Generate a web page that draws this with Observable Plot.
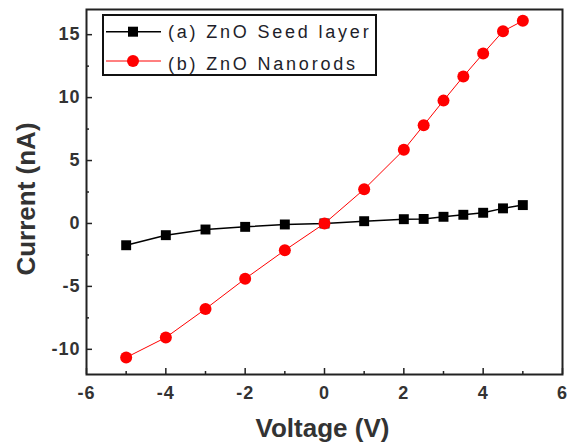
<!DOCTYPE html>
<html><head><meta charset="utf-8">
<script src="https://cdn.jsdelivr.net/npm/d3@7"></script>
<script src="https://cdn.jsdelivr.net/npm/@observablehq/plot@0.6"></script>
<style>
body{margin:0;background:#fff;}
#wrap{position:relative;width:567px;height:448px;}
#wrap svg{position:absolute;left:0;top:0;}
</style>
</head><body><div id="wrap"></div>
<script>
// ---- data ----
const voltage = [-5, -4, -3, -2, -1, 0, 1, 2, 2.5, 3, 3.5, 4, 4.5, 5];
const seedLayer = [-1.73, -0.93, -0.48, -0.27, -0.08, 0, 0.18, 0.34, 0.36, 0.53, 0.69, 0.85, 1.2, 1.46];
const nanorods = [-10.65, -9.06, -6.79, -4.39, -2.13, 0, 2.72, 5.85, 7.8, 9.76, 11.68, 13.5, 15.27, 16.1];
const seriesNames = ["(a) ZnO Seed layer", "(b) ZnO Nanorods"];
const xTicks = [-6, -4, -2, 0, 2, 4, 6];
const xMinorTicks = [-5, -3, -1, 1, 3, 5];
const yTicks = [-10, -5, 0, 5, 10, 15];
const yMinorTicks = [-7.5, -2.5, 2.5, 7.5, 12.5];
const xLabel = "Voltage (V)";
const yLabel = "Current (nA)";

const seedData = voltage.map((v, i) => ({v, c: seedLayer[i]}));
const rodData = voltage.map((v, i) => ({v, c: nanorods[i]}));

const W = 567, H = 448, mL = 86, mR = 5, mT = 9, mB = 74;
const fw = W - mL - mR, fh = H - mT - mB;
const font = "'Liberation Sans', Arial, sans-serif";
const fmt = d => String(d);

const plot = Plot.plot({
  width: W, height: H,
  marginLeft: mL, marginRight: mR, marginTop: mT, marginBottom: mB,
  style: {fontFamily: font, background: "#fff", overflow: "visible"},
  x: {domain: [-6, 6]},
  y: {domain: [-12, 17]},
  marks: [
    Plot.ruleY(yTicks, {y: d => d, insetRight: fw - 6, stroke: "#222", strokeWidth: 1.5}),
    Plot.ruleY(yMinorTicks, {y: d => d, insetRight: fw - 3, stroke: "#222", strokeWidth: 1.5}),
    Plot.ruleX(xTicks, {x: d => d, insetTop: fh - 6, stroke: "#222", strokeWidth: 1.5}),
    Plot.ruleX(xMinorTicks, {x: d => d, insetTop: fh - 3, stroke: "#222", strokeWidth: 1.5}),
    Plot.axisX({ticks: xTicks, tickSize: 0, tickPadding: 12, tickFormat: fmt, fontSize: 18, fontWeight: "bold", fill: "#333", label: null}),
    Plot.axisY({ticks: yTicks, tickSize: 0, tickPadding: 6, tickFormat: fmt, fontSize: 18, fontWeight: "bold", fill: "#333", label: null}),
    Plot.line(seedData, {x: "v", y: "c", stroke: "#000", strokeWidth: 1.5}),
    Plot.dot(seedData, {x: "v", y: "c", symbol: "square", r: 5.6, fill: "#000", stroke: "none"}),
    Plot.line(rodData, {x: "v", y: "c", stroke: "#f00", strokeWidth: 1}),
    Plot.dot(rodData, {x: "v", y: "c", r: 6, fill: "#f00", stroke: "none"}),
    Plot.frame({stroke: "#222", strokeWidth: 2}),
    Plot.text([xLabel], {frameAnchor: "bottom", textAnchor: "middle", dx: -2, dy: 54, lineAnchor: "middle", text: d => d, fontSize: 26, fontWeight: "bold", fill: "#333"}),
    Plot.text([yLabel], {frameAnchor: "left", textAnchor: "middle", rotate: -90, dx: -60, dy: 7, lineAnchor: "middle", text: d => d, fontSize: 26, fontWeight: "bold", fill: "#333"})
  ]
});

d3.select(plot).selectAll('g[aria-label="x-axis tick label"] text, g[aria-label="y-axis tick label"] text').style("letter-spacing", "1px");

const wrap = document.getElementById("wrap");
wrap.appendChild(plot);

// ---- legend overlay ----
const legendStyles = [
  {color: "#000", symbol: d3.symbolSquare, size: 100, sw: 1.5, cy: 31.7, base: 38.3},
  {color: "#f00", symbol: d3.symbolCircle, size: Math.PI * 36, sw: 1, cy: 61, base: 69.5}
];
const lg = d3.select(wrap).append("svg").attr("width", W).attr("height", H)
  .style("pointer-events", "none").style("font-family", font);
lg.append("rect").attr("x", 103).attr("y", 15).attr("width", 273).attr("height", 60)
  .attr("fill", "#fff").attr("stroke", "#111").attr("stroke-width", 2);
seriesNames.forEach((name, i) => {
  const s = legendStyles[i];
  lg.append("line").attr("x1", 106).attr("x2", 161).attr("y1", s.cy).attr("y2", s.cy)
    .attr("stroke", s.color).attr("stroke-width", s.sw);
  lg.append("path").attr("d", d3.symbol(s.symbol, s.size)()).attr("transform", `translate(133,${s.cy})`).attr("fill", s.color);
  lg.append("text").attr("x", 168).attr("y", s.base).attr("font-size", 18).attr("fill", "#1e1e2a")
    .style("letter-spacing", "2.8px").text(name);
});
</script>
</body></html>
